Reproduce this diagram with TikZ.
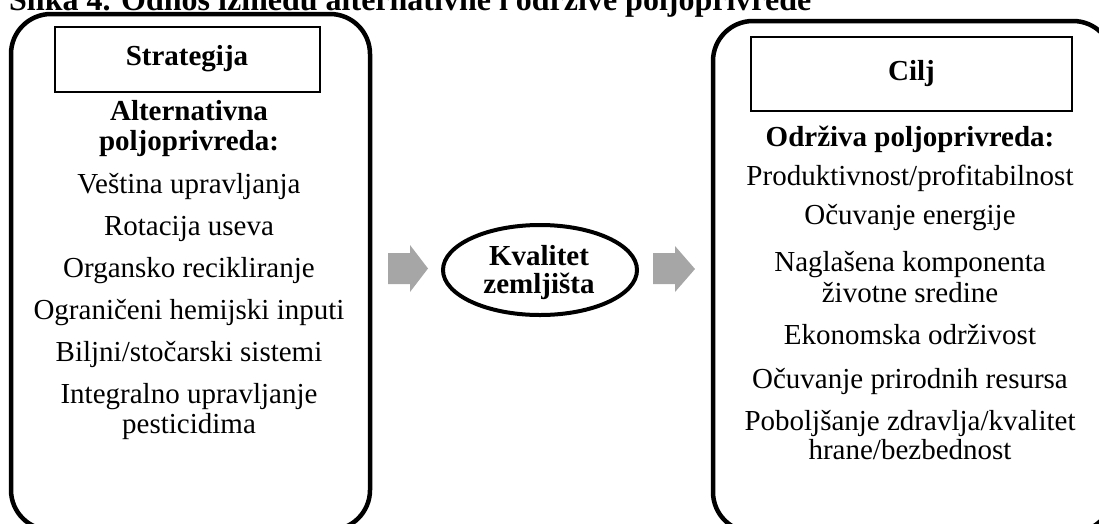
\documentclass[tikz,border=0pt]{standalone}
\usepackage{fontspec}
\setmainfont{Liberation Serif}
\usetikzlibrary{shapes.geometric}
\definecolor{arrowgray}{HTML}{A6A6A6}
\begin{document}
\begin{tikzpicture}[x=1pt,y=-1pt,
  outer/.style={draw, line width=4.5pt, rounded corners=40pt, inner sep=0pt},
  headbox/.style={draw, line width=1.3pt, inner sep=0pt},
  txt/.style={anchor=base, inner sep=0pt, font=\fontsize{29}{30}\selectfont},
  btxt/.style={anchor=base, inner sep=0pt, font=\fontsize{29}{30}\selectfont\bfseries},
  blockarrow/.style={fill=arrowgray, draw=none}]
\useasboundingbox (0,0) rectangle (1099,523);
\clip (0,0) rectangle (1099,523);
% title (cut off at top)
\node[anchor=base west, inner sep=0pt, font=\fontsize{32}{38}\selectfont\bfseries] (title) at (9,10) {Slika 4. Odnos između alternativne i održive poljoprivrede};
% outer boxes
\node[outer, minimum width=359pt, minimum height=516pt] (L) at (190.5,272) {};
\node[outer, minimum width=400pt, minimum height=511pt] (R) at (913,276.5) {};
% header boxes
\node[headbox, minimum width=265pt, minimum height=65pt] (hl) at (187.5,59.5) {};
\node[btxt] (strat) at (187,65) {Strategija};
\node[headbox, minimum width=321pt, minimum height=74pt] (hr) at (911.5,74) {};
\node[btxt] (cilj) at (911.5,80) {Cilj};
% left text
\node[btxt] (l1) at (189,120) {Alternativna};
\node[btxt] (l2) at (189,150) {poljoprivreda:};
\node[txt] (l3) at (189,193) {Veština upravljanja};
\node[txt] (l4) at (189,235) {Rotacija useva};
\node[txt] (l5) at (189,277) {Organsko recikliranje};
\node[txt] (l6) at (189,319) {Ograničeni hemijski inputi};
\node[txt] (l7) at (189,361) {Biljni/stočarski sistemi};
\node[txt] (l8) at (189,403) {Integralno upravljanje};
\node[txt] (l9) at (189,433) {pesticidima};
% right text
\node[btxt] (r1) at (910,146) {Održiva poljoprivreda:};
\node[txt] (r2) at (910,185) {Produktivnost/profitabilnost};
\node[txt] (r3) at (910,224) {Očuvanje energije};
\node[txt] (r4) at (910,271) {Naglašena komponenta};
\node[txt] (r5) at (910,302) {životne sredine};
\node[txt] (r6) at (910,344) {Ekonomska održivost};
\node[txt] (r7) at (910,388) {Očuvanje prirodnih resursa};
\node[txt] (r8) at (910,430) {Poboljšanje zdravlja/kvalitet};
\node[txt] (r9) at (910,459) {hrane/bezbednost};
% middle ellipse
\node[draw, ellipse, line width=4pt, minimum width=194pt, minimum height=90pt, inner sep=0pt] (E) at (540,270) {};
\node[btxt] (k1) at (539,265) {Kvalitet};
\node[btxt] (k2) at (539,293) {zemljišta};
% block arrows
\fill[blockarrow] (388,253) -- (410,253) -- (410,245) -- (428,268.5) -- (410,292) -- (410,284) -- (388,284) -- cycle;
\fill[blockarrow] (653,253) -- (675,253) -- (675,246) -- (695,269) -- (675,292) -- (675,284) -- (653,284) -- cycle;
\end{tikzpicture}
\end{document}
